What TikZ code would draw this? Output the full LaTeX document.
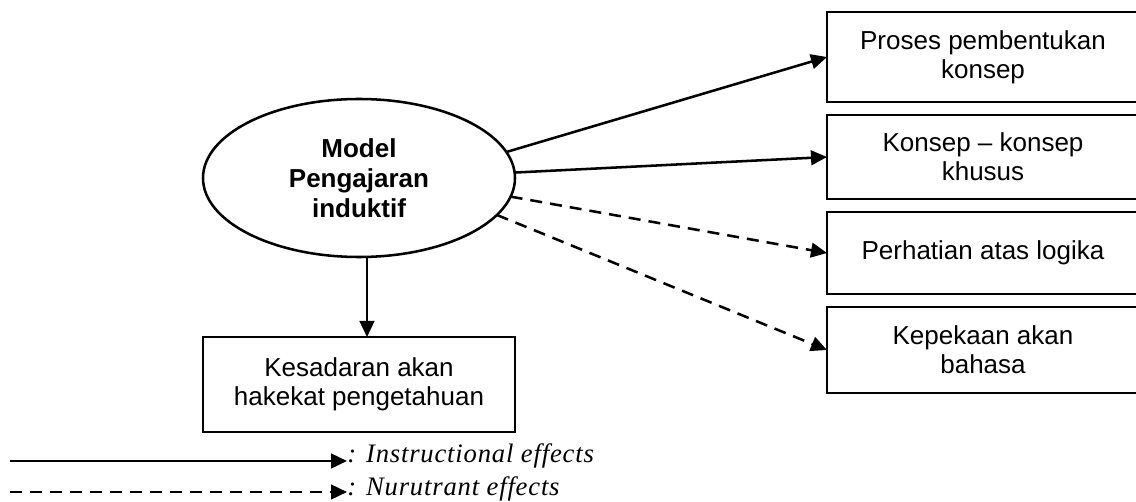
\documentclass[tikz,border=0pt]{standalone}
\usepackage{fontspec}
\setmainfont{Liberation Sans}
\newfontfamily\legendfont[LetterSpace=3]{Liberation Serif}
\usetikzlibrary{shapes.geometric,arrows.meta}
\begin{document}
\begin{tikzpicture}[x=0.75pt,y=-0.75pt,
  boxtext/.style={font=\fontsize{19.5}{21.5}\selectfont},
  effectbox/.style={draw, line width=1.9pt, minimum width=234pt, inner sep=0pt,
    outer sep=0pt, align=center, boxtext},
  effect/.style={line width=1.9pt, -{Triangle[length=12pt,width=11pt]}},
  nurturant/.style={effect, dash pattern=on 9pt off 6pt},
  legendtext/.style={font=\legendfont\itshape\fontsize{20}{22}\selectfont, anchor=base west, inner sep=0pt}]
\useasboundingbox (0,0) rectangle (1136,502);

% central model
\node[ellipse, draw, line width=1.9pt, minimum width=234pt, minimum height=118.5pt,
  inner sep=0pt, outer sep=0pt, align=center,
  font=\bfseries\fontsize{19.5}{22.5}\selectfont] (model) at (359,178)
  {Model\\Pengajaran\\induktif};

% effects
\node[effectbox, minimum height=67.5pt] (b1) at (983,57) {Proses pembentukan\\konsep};
\node[effectbox, minimum height=63pt] (b2) at (983,157) {Konsep -- konsep\\khusus};
\node[effectbox, minimum height=61.5pt] (b3) at (983,253) {Perhatian atas logika};
\node[effectbox, minimum height=64.5pt] (b4) at (983,350) {Kepekaan akan\\bahasa};
\node[effectbox, minimum height=71.25pt] (k) at (359,384.5) {Kesadaran akan\\hakekat pengetahuan};

\draw[effect] (model.10.4) -- (b1.west);
\draw[effect] (model.2.6) -- (b2.west);
\draw[nurturant] (model.-7.3) -- (b3.west);
\draw[nurturant] (model.-15) -- (b4.west);
\draw[effect] ([xshift=6pt]model.south) -- ([xshift=6pt]k.north);

% legend
\coordinate (ia) at (10,461);
\coordinate (ib) at (347,461);
\coordinate (na) at (10,492);
\coordinate (nb) at (347,492);
\draw[effect] (ia) -- (ib);
\draw[nurturant] (na) -- (nb);
\node[legendtext] (il) at (347,462) {: Instructional effects};
\node[legendtext] (nl) at (347,495) {: Nurutrant effects};
\end{tikzpicture}
\end{document}
